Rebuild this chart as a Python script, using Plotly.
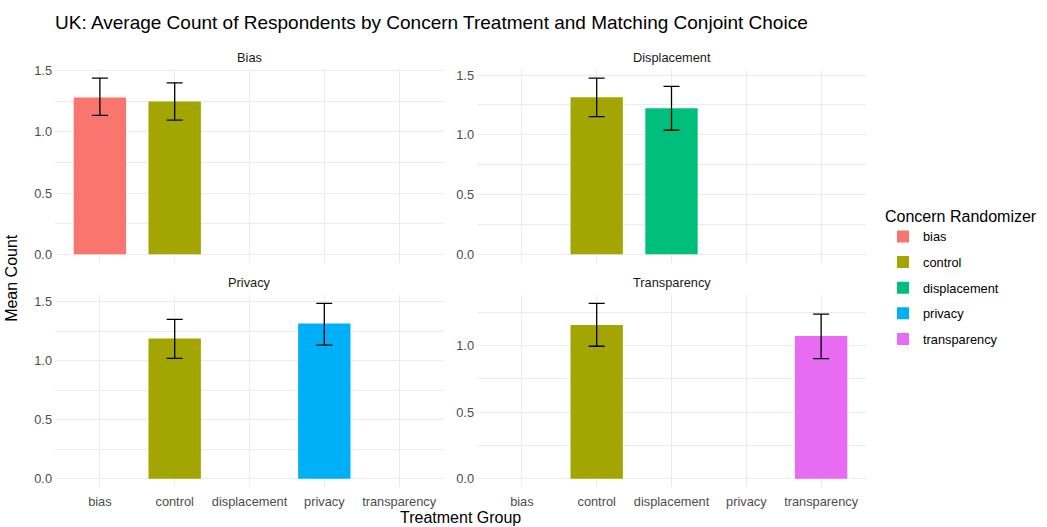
import plotly.graph_objects as go

# Facets, treatment groups and their fill colours
panel_names = ["Bias", "Displacement", "Privacy", "Transparency"]
treatment_groups = ["bias", "control", "displacement", "privacy", "transparency"]
group_colors = ["#F8766D", "#A3A500", "#00BF7D", "#00B0F6", "#E76BF3"]

# One row per bar: facet, treatment group, mean count and its interval
bar_panel = ["Bias", "Bias", "Displacement", "Displacement",
             "Privacy", "Privacy", "Transparency", "Transparency"]
bar_group = ["bias", "control", "control", "displacement",
             "control", "privacy", "control", "transparency"]
mean_count = [1.281, 1.249, 1.314, 1.222, 1.188, 1.315, 1.156, 1.074]
ci_low = [1.135, 1.097, 1.153, 1.038, 1.020, 1.132, 0.996, 0.903]
ci_high = [1.440, 1.400, 1.475, 1.406, 1.351, 1.486, 1.318, 1.238]

W, H = 1047, 527
FONT = "Liberation Sans, Arial, sans-serif"
TICK_SIZE = 12.8
TITLE_SIZE = 16

# panel placement in pixels: (left, right, top, bottom)
col_px = [(55, 444), (477, 866)]
row_px = [(64, 260), (292, 487)]

fig = go.Figure()
layout_axes = {}
shown = set()

for p, pname in enumerate(panel_names):
    r, c = divmod(p, 2)
    idx = p + 1
    xa = "x" if idx == 1 else f"x{idx}"
    ya = "y" if idx == 1 else f"y{idx}"
    rows = [i for i, b in enumerate(bar_panel) if b == pname]
    for i in rows:
        g = bar_group[i]
        color = group_colors[treatment_groups.index(g)]
        fig.add_trace(go.Bar(
            x=[g], y=[mean_count[i]], width=0.7,
            marker=dict(color=color, line=dict(width=0)),
            error_y=dict(type="data", symmetric=False,
                         array=[ci_high[i] - mean_count[i]],
                         arrayminus=[mean_count[i] - ci_low[i]],
                         color="black", thickness=1.3, width=8),
            name=g, legendgroup=g, showlegend=g not in shown,
            legendrank=treatment_groups.index(g),
            xaxis=xa, yaxis=ya, hoverinfo="skip",
        ))
        shown.add(g)

    # free y scale per facet, padded 5% on each side
    top = max(ci_high[i] for i in rows)
    span = top - 0.0
    yr = [0 - 0.05 * span, top + 0.05 * span]

    x0, x1 = col_px[c]
    t, b = row_px[r]
    layout_axes["xaxis" if idx == 1 else f"xaxis{idx}"] = dict(
        domain=[x0 / W, x1 / W], anchor=ya,
        type="category", categoryorder="array", categoryarray=treatment_groups,
        range=[-0.6, 4.6], showgrid=True, gridcolor="#ebebeb", gridwidth=1,
        zeroline=False, showline=False, ticks="",
        showticklabels=(r == 1), ticklabelstandoff=5,
        tickfont=dict(family=FONT, size=TICK_SIZE, color="#4d4d4d"),
        fixedrange=True,
    )
    layout_axes["yaxis" if idx == 1 else f"yaxis{idx}"] = dict(
        domain=[1 - b / H, 1 - t / H], anchor=xa,
        range=yr, dtick=0.5, tick0=0, tickformat=".1f",
        showgrid=True, gridcolor="#ebebeb", gridwidth=1,
        minor=dict(dtick=0.25, tick0=0, showgrid=True,
                   gridcolor="#ebebeb", gridwidth=0.6),
        zeroline=False, showline=False, ticks="", ticklabelstandoff=2,
        tickfont=dict(family=FONT, size=TICK_SIZE, color="#4d4d4d"),
        fixedrange=True,
    )

annotations = []
# facet strip labels
for p, pname in enumerate(panel_names):
    r, c = divmod(p, 2)
    x0, x1 = col_px[c]
    t, _ = row_px[r]
    annotations.append(dict(
        text=pname, x=(x0 + x1) / 2 / W, y=1 - (t - 12) / H,
        xref="paper", yref="paper", showarrow=False,
        xanchor="center", yanchor="middle",
        font=dict(family=FONT, size=TICK_SIZE, color="#1a1a1a"),
    ))
# axis titles
annotations.append(dict(
    text="Treatment Group", x=460 / W, y=1 - 517 / H,
    xref="paper", yref="paper", showarrow=False,
    xanchor="center", yanchor="middle",
    font=dict(family=FONT, size=TITLE_SIZE, color="black"),
))
annotations.append(dict(
    text="Mean Count", x=12 / W, y=1 - 275 / H, textangle=-90,
    xref="paper", yref="paper", showarrow=False,
    xanchor="center", yanchor="middle",
    font=dict(family=FONT, size=TITLE_SIZE, color="black"),
))

fig.update_layout(
    width=W, height=H,
    margin=dict(l=0, r=0, t=0, b=0),
    paper_bgcolor="white", plot_bgcolor="white",
    barmode="overlay",
    title=dict(
        text="UK: Average Count of Respondents by Concern Treatment and Matching Conjoint Choice",
        x=55 / W, xanchor="left", y=1 - 22 / H, yanchor="middle",
        font=dict(family=FONT, size=19, color="black"),
    ),
    legend=dict(
        x=883 / W, xanchor="left", y=1 - 197 / H, yanchor="top",
        title=dict(text="Concern Randomizer",
                   font=dict(family=FONT, size=TITLE_SIZE, color="black")),
        font=dict(family=FONT, size=TICK_SIZE, color="black"),
        tracegroupgap=6, bgcolor="rgba(0,0,0,0)",
    ),
    annotations=annotations,
    **layout_axes,
)

fig.write_html("out.html")
